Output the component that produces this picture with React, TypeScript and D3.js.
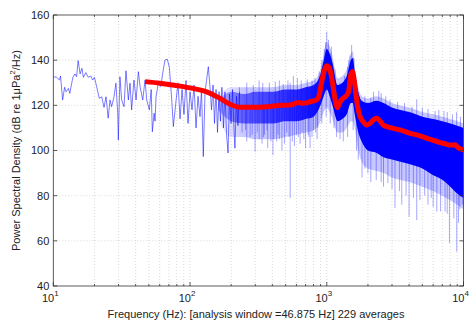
import React from 'react';
import * as d3 from 'd3';

const W = 471;
const H = 323;
const PL = 53.3, PR = 463.5, PT = 15, PB = 286;

const yTicks = [40, 60, 80, 100, 120, 140, 160];
const xDecades = [10, 100, 1000, 10000];
const xExponents = ['1', '2', '3', '4'];
const xMinorMult = [2, 3, 4, 5, 6, 7, 8, 9];
const xLabel = 'Frequency (Hz): [analysis window =46.875 Hz] 229 averages';

// Raw PSD trace, low-frequency part (Hz, dB)
const traceFreq = [10.0, 10.6, 11.1, 11.3, 11.7, 12.1, 12.4, 12.9, 13.2, 13.9, 14.4, 14.8, 15.2, 15.7, 16.2, 16.6, 17.3, 18.0, 18.8, 19.4, 20.0, 20.8, 21.7, 22.6, 23.5, 24.3, 25.2, 26.0, 26.7, 27.8, 28.7, 29.6, 29.9, 30.7, 31.6, 32.9, 34.0, 35.4, 36.4, 37.4, 38.9, 40.3, 41.9, 43.1, 45.1, 46.9, 48.2, 50.4, 52.0, 53.0, 54.6, 55.5, 56.4, 58.6, 61.1, 63.1, 65.6, 68.2, 70.6, 73.5, 75.5, 79.1, 81.7, 84.5, 87.4, 90.3, 93.5, 96.7, 100, 103.4, 107, 110.6, 114.4, 118.3, 121.3, 125, 128.8, 132, 136.1, 140, 143.6, 147.3, 151, 155, 158.8, 163, 167, 171, 175.6, 180, 185, 189.7, 194.5, 199.5, 204.6, 209.8, 213, 218.6, 224, 230];
const traceDb = [132.7, 132.4, 131.2, 133, 122.4, 128, 126, 127.5, 125.3, 132.4, 133.9, 132.7, 139.8, 133.9, 136.4, 132.4, 134.5, 132.4, 133, 131.2, 132.4, 128, 123.1, 123.8, 119.1, 123.8, 114.3, 122.4, 119.4, 123.8, 129.8, 116.5, 104.6, 132.7, 122.4, 119.4, 135.3, 122.4, 129.8, 118, 131.2, 122.4, 134.9, 128.3, 122.4, 131.2, 122.4, 118, 127, 108.3, 116.5, 113, 123.8, 129.8, 128.3, 134.2, 140.1, 140.4, 136.8, 122.4, 110.6, 122.4, 130, 114, 127, 116, 131, 112, 126, 118, 129, 110, 124, 115, 127, 97.3, 126, 131, 137.1, 128, 118, 129, 112, 127, 108, 126, 113, 128, 110, 126, 107, 98.9, 125, 112, 127, 109, 101, 124, 111, 126];

// Dense part of the raw spectrum: envelopes (Hz, dB)
const bandFreq = [160, 200, 250, 300, 400, 500, 600, 700, 800, 900, 950, 1000, 1050, 1100, 1200, 1300, 1400, 1500, 1550, 1600, 1700, 1800, 2000, 2300, 2600, 3000, 4000, 5000, 6000, 7000, 8000, 9000, 10000];
const coreUpper = [122, 126, 125, 126, 126, 127, 127, 128, 129, 134, 140, 145, 143, 139, 129, 130, 133, 140, 141, 135, 126, 122, 121, 122, 121, 119, 117, 115, 114, 113, 112, 111, 110];
const coreLower = [118, 113, 112, 112, 112, 113, 113, 114, 115, 120, 124, 127, 124, 120, 113, 114, 116, 121, 121, 116, 108, 104, 100, 99, 97, 96, 94, 92, 89, 87, 84, 81, 79];
const outerUpper = [124, 128, 128, 128, 128, 129, 129, 130, 131, 136, 143, 148, 146, 142, 132, 133, 136, 143, 144, 137, 128, 124, 123, 124, 123, 121, 119, 117, 116, 115, 114, 113, 112];
const outerLower = [114, 106, 106, 105, 105, 106, 107, 108, 109, 113, 117, 119, 117, 114, 108, 108, 110, 113, 113, 110, 100, 95, 92, 91, 90, 88, 86, 84, 82, 80, 78, 76, 74];

// Individual excursions of the raw spectrum (Hz, dB)
const spikeFreq = [
  240, 260, 275, 299, 320, 336, 350, 370, 390, 404, 430, 450, 470, 490, 540, 560, 580, 620, 638, 680, 700, 730, 755, 780, 830, 850, 1130, 1250, 1700, 1811, 1900, 2000, 2300, 2500, 2800, 3155, 3536, 4000, 4550, 5200, 5800, 6380, 7330, 7890, 8930, 9400, 9800,
  230, 260, 290, 320, 340, 380, 420, 450, 480, 520, 540, 570, 610, 650, 720, 780, 820, 880, 980, 1000, 1030, 1080, 1450, 1520, 2200, 2400, 2500, 4550, 6600, 7200, 8900,
  1900, 2100, 2700, 2900, 3300, 3700, 4200, 5000, 5500, 6200, 7600, 8300, 9500,
  2100, 2600, 3000, 3400, 3800, 4300, 4800, 5500, 6000, 6800, 7600, 8500, 9200,
  920, 960, 1060, 1150, 1250, 1350, 1420, 1480, 1580, 1650,
  920, 990, 1060, 1180, 1320, 1420, 1560, 1650,
  255, 285, 310, 345, 365, 410, 440, 510, 530, 600, 660, 740, 800, 860];
const spikeDb = [
  108, 104, 106, 99.5, 105, 103, 107, 101, 104, 98, 104, 105, 100, 103, 79, 104, 102, 106, 103, 105, 101, 107, 101, 106, 108, 105, 110, 105, 96, 88, 92, 90, 87, 86, 85.6, 74.5, 76, 70.7, 69.2, 80, 79, 73, 72.9, 59, 55.2, 74, 76,
  128, 130, 129, 131, 130, 130, 130.5, 131, 129.5, 131, 130, 133, 132, 131, 131.5, 131, 132, 135, 148, 152.6, 149, 146, 140, 146.7, 126, 126.5, 125.5, 122.7, 118, 117.5, 117,
  124, 123.5, 124, 122.5, 121.5, 121, 119.5, 119, 118.5, 117.5, 117, 116, 115,
  86, 84, 83, 82, 80, 79, 78, 76, 75, 73, 72, 70, 68,
  140, 145, 143, 136, 130, 133, 137, 142, 141, 131,
  112, 115, 112, 106, 104, 106, 109, 100,
  109, 107, 108, 106, 109, 105, 107, 108, 106, 107, 108, 106, 109, 110];

// Smoothed (averaged) spectrum (Hz, dB)
const smoothFreq = [46.9, 60.3, 89.3, 108.8, 132.4, 165.8, 196, 232, 307, 385, 455, 539, 617, 671, 755, 845, 879, 919, 955, 996, 1039, 1075, 1112, 1150, 1200, 1251, 1316, 1384, 1444, 1493, 1539, 1584, 1625, 1680, 1753, 1843, 1962, 2075, 2183, 2323, 2455, 2583, 2750, 3056, 3437, 4066, 4552, 5390, 5998, 6745, 7330, 7980, 8670, 9120, 9720, 10000];
const smoothDb = [130.5, 129.8, 128.3, 127.3, 126, 123.1, 120.5, 119.1, 119.2, 119.5, 120, 120.1, 121.2, 120.9, 121.6, 122.4, 124.5, 130.5, 135, 137.5, 136.8, 133.5, 128.3, 122.5, 119, 121.5, 123.1, 124.2, 126, 133, 135, 131.5, 126, 119.5, 115, 112.8, 111.3, 112, 113.5, 114.3, 113, 111.3, 110.6, 109.8, 109.1, 107.6, 106.9, 105.4, 104.5, 103.5, 103, 102.4, 102.5, 101.3, 100.5, 100.3];

const FONT = '"Liberation Sans", Arial, Helvetica, sans-serif';

export default function App() {
  const x = d3.scaleLog().domain([10, 10000]).range([PL, PR]);
  const y = d3.scaleLinear().domain([40, 160]).range([PB, PT]);

  const minors: number[] = [];
  xDecades.slice(0, 3).forEach((d) => xMinorMult.forEach((m) => minors.push(d * m)));

  const traceLine = d3.line<number>().x((_, i) => x(traceFreq[i])).y((v) => y(v));
  const smoothLine = d3.line<number>().x((_, i) => x(smoothFreq[i])).y((v) => y(v)).curve(d3.curveMonotoneX);
  const area = (up: number[], lo: number[]) =>
    d3.area<number>().x((f) => x(f)).y0((_, i) => y(lo[i])).y1((_, i) => y(up[i])).curve(d3.curveMonotoneX)(bandFreq) as string;

  const midScale = d3.scaleLog().domain(bandFreq).range(bandFreq.map((_, i) => (coreUpper[i] + coreLower[i]) / 2)).clamp(true);

  const gx0 = x(160), gx1 = x(1000);

  return (
    <svg width={W} height={H} style={{ position: 'absolute', left: 0, top: 0, background: '#fff' }} fontFamily={FONT}>
      <defs>
        <clipPath id="plotClip">
          <rect x={PL} y={PT} width={PR - PL} height={PB - PT} />
        </clipPath>
        <linearGradient id="coreGrad" gradientUnits="userSpaceOnUse" x1={gx0} x2={gx1} y1={0} y2={0}>
          <stop offset="0" stopColor="#0000ff" stopOpacity={0.2} />
          <stop offset="0.2" stopColor="#0000ff" stopOpacity={0.5} />
          <stop offset="0.55" stopColor="#0000ff" stopOpacity={0.72} />
          <stop offset="0.88" stopColor="#0000ff" stopOpacity={0.9} />
          <stop offset="1" stopColor="#0000ff" stopOpacity={1} />
        </linearGradient>
        <linearGradient id="outerGrad" gradientUnits="userSpaceOnUse" x1={gx0} x2={x(250)} y1={0} y2={0}>
          <stop offset="0" stopColor="#0000ff" stopOpacity={0.05} />
          <stop offset="1" stopColor="#0000ff" stopOpacity={0.22} />
        </linearGradient>
      </defs>
      <rect x={0} y={0} width={W} height={H} fill="#fff" />
      <g stroke="#c8c8c8" strokeWidth={0.7} strokeDasharray="1 2">
        {yTicks.slice(1, -1).map((t) => (
          <line key={'gy' + t} x1={PL} x2={PR} y1={y(t)} y2={y(t)} />
        ))}
        {[...minors, 100, 1000].map((f) => (
          <line key={'gx' + f} x1={x(f)} x2={x(f)} y1={PT} y2={PB} />
        ))}
      </g>
      <g clipPath="url(#plotClip)">
        <path d={area(outerUpper, outerLower)} fill="url(#outerGrad)" />
        <path d={area(coreUpper, coreLower)} fill="url(#coreGrad)" />
        <g stroke="#0000ff" strokeWidth={0.7} strokeOpacity={0.5}>
          {spikeFreq.map((f, i) => (
            <line key={'s' + i} x1={x(f)} x2={x(f)} y1={y(midScale(f))} y2={y(spikeDb[i])} />
          ))}
        </g>
        <path d={traceLine(traceDb) as string} fill="none" stroke="#0000ff" strokeWidth={0.7} strokeOpacity={0.75} strokeLinejoin="round" />
        <path d={smoothLine(smoothDb) as string} fill="none" stroke="#ff0000" strokeWidth={5} strokeLinejoin="round" strokeLinecap="butt" />
      </g>
      <rect x={PL} y={PT} width={PR - PL} height={PB - PT} fill="none" stroke="#333" strokeWidth={0.8} />
      <g stroke="#333" strokeWidth={0.8}>
        {yTicks.map((t) => (
          <g key={'ty' + t}>
            <line x1={PL} x2={PL + 4} y1={y(t)} y2={y(t)} />
            <line x1={PR} x2={PR - 4} y1={y(t)} y2={y(t)} />
          </g>
        ))}
        {xDecades.map((f) => (
          <g key={'tx' + f}>
            <line x1={x(f)} x2={x(f)} y1={PB} y2={PB - 4} />
            <line x1={x(f)} x2={x(f)} y1={PT} y2={PT + 4} />
          </g>
        ))}
        {minors.map((f) => (
          <g key={'tm' + f}>
            <line x1={x(f)} x2={x(f)} y1={PB} y2={PB - 2} />
            <line x1={x(f)} x2={x(f)} y1={PT} y2={PT + 2} />
          </g>
        ))}
      </g>
      <g fontSize={11} fill="#222">
        {yTicks.map((t) => (
          <text key={'ly' + t} x={PL - 4} y={y(t)} dy="0.35em" textAnchor="end">{t}</text>
        ))}
        {xDecades.map((f, i) => (
          <text key={'lx' + f} x={x(f) - 3} y={302} textAnchor="middle">
            10<tspan fontSize={8} dy={-6}>{xExponents[i]}</tspan>
          </text>
        ))}
        <text x={256} y={318} textAnchor="middle">{xLabel}</text>
        <text transform={`translate(20,${(PT + PB) / 2}) rotate(-90)`} textAnchor="middle">
          Power Spectral Density (dB re 1μPa<tspan fontSize={8} dy={-5}>2</tspan><tspan dy={5}>/Hz)</tspan>
        </text>
      </g>
    </svg>
  );
}
